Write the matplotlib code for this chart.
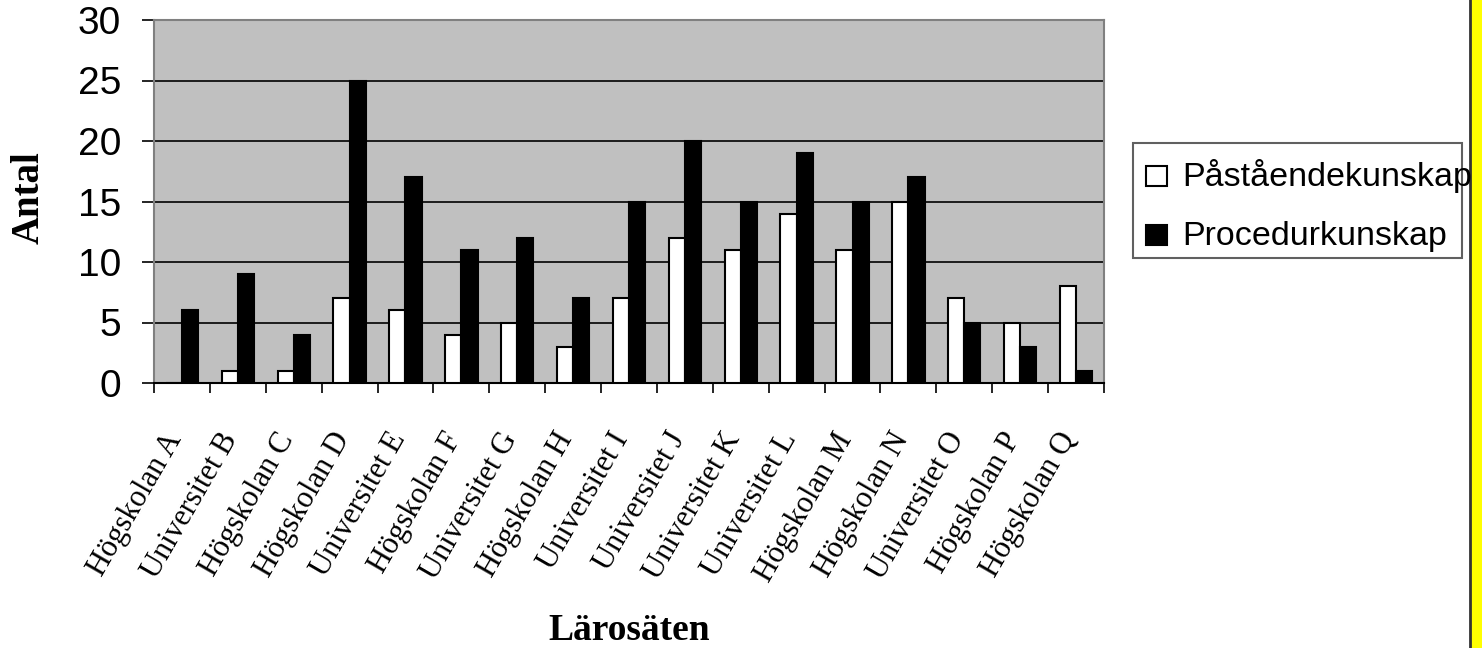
import matplotlib
matplotlib.use("Agg")
import matplotlib.pyplot as plt
from matplotlib.patches import Rectangle
import numpy as np

# data
larosaten = [
    "Högskolan A", "Universitet B", "Högskolan C", "Högskolan D",
    "Universitet E", "Högskolan F", "Universitet G", "Högskolan H",
    "Universitet I", "Universitet J", "Universitet K", "Universitet L",
    "Högskolan M", "Högskolan N", "Universitet O", "Högskolan P",
    "Högskolan Q",
]
pastaende = [0, 1, 1, 7, 6, 4, 5, 3, 7, 12, 11, 14, 11, 15, 7, 5, 8]
procedur = [6, 9, 4, 25, 17, 11, 12, 7, 15, 20, 15, 19, 15, 17, 5, 3, 1]
series_names = ["Påståendekunskap", "Procedurkunskap"]
series_colours = ["white", "black"]
y_ticks = [0, 5, 10, 15, 20, 25, 30]

W, H = 1482, 648
SANS = "Liberation Sans"
SERIF = "Liberation Serif"


def px(x, y):
    """pixel position (top-left origin) -> figure coords"""
    return x / W, 1 - y / H


fig = plt.figure(figsize=(W / 100, H / 100), dpi=100)
fig.patch.set_facecolor("white")

ax = fig.add_axes([154 / W, 1 - 383 / H, 950 / W, 363 / H])
ax.set_facecolor("#c0c0c0")

x = np.arange(len(larosaten))
bw = 0.29
ax.bar(x - bw / 2, pastaende, width=bw, color=series_colours[0],
       edgecolor="black", linewidth=1.5, zorder=3)
ax.bar(x + bw / 2, procedur, width=bw, color=series_colours[1],
       edgecolor="black", linewidth=1.5, zorder=3)

ax.set_xlim(-0.5, len(larosaten) - 0.5)
ax.set_ylim(0, 30)
ax.set_yticks(y_ticks)
ax.yaxis.grid(True, color="black", linewidth=1.2, zorder=1)
ax.set_axisbelow(True)

for side in ["left", "top", "right"]:
    ax.spines[side].set_color("#808080")
    ax.spines[side].set_linewidth(1.5)
ax.spines["bottom"].set_color("black")
ax.spines["bottom"].set_linewidth(1.5)

ax.tick_params(axis="y", length=8.6, width=1.2, pad=15, labelsize=28,
               direction="out", color="black")
for lab in ax.get_yticklabels():
    lab.set_fontfamily(SANS)

# ticks at category boundaries, labels at the centres
ax.set_xticks(np.arange(len(larosaten) + 1) - 0.5)
ax.set_xticklabels([])
ax.tick_params(axis="x", which="major", length=7.5, width=1.2, direction="out")
ax.set_xticks(x, minor=True)
ax.set_xticklabels(larosaten, minor=True, rotation=60, ha="right",
                   va="baseline", rotation_mode="anchor",
                   fontfamily=SERIF, fontsize=22)
ax.tick_params(axis="x", which="minor", length=0, pad=40)

ax.set_xlabel("Lärosäten", fontfamily=SERIF, fontweight="bold", fontsize=27)
ax.xaxis.set_label_coords(0.5, -(631 - 383) / 363)
ax.xaxis.label.set_va("center")
ax.set_ylabel("Antal", fontfamily=SERIF, fontweight="bold", fontsize=28)
ax.yaxis.set_label_coords((29 - 154) / 950, (383 - 198) / 363)
ax.yaxis.label.set_va("center")

# legend box, drawn by hand so the text can run past the frame like the original
x0, y0 = px(1133, 258)
x1, y1 = px(1462, 143)
fig.patches.append(Rectangle((x0, y0), x1 - x0, y1 - y0, transform=fig.transFigure,
                             facecolor="white", edgecolor="#606060", linewidth=1.5))
for i, (name, col) in enumerate(zip(series_names, series_colours)):
    base = 186 + i * 59
    sx, sy = px(1146, base)
    s2x, s2y = px(1167, base - 20)
    fig.patches.append(Rectangle((sx, sy), s2x - sx, s2y - sy, transform=fig.transFigure,
                                 facecolor=col, edgecolor="black", linewidth=1.5))
    tx, ty = px(1182, base)
    fig.text(tx, ty, name, fontfamily=SANS, fontsize=24.5, va="baseline", ha="left")

# yellow strip along the right edge
sx, sy = px(1470, H)
fig.patches.append(Rectangle((sx, sy), 1 - sx, 1, transform=fig.transFigure,
                             facecolor="#ffff00", edgecolor="none"))
fig.add_artist(plt.Line2D([sx, sx], [0, 1], transform=fig.transFigure,
                          color="#333333", linewidth=2))

fig.savefig("out.png", dpi=100)
